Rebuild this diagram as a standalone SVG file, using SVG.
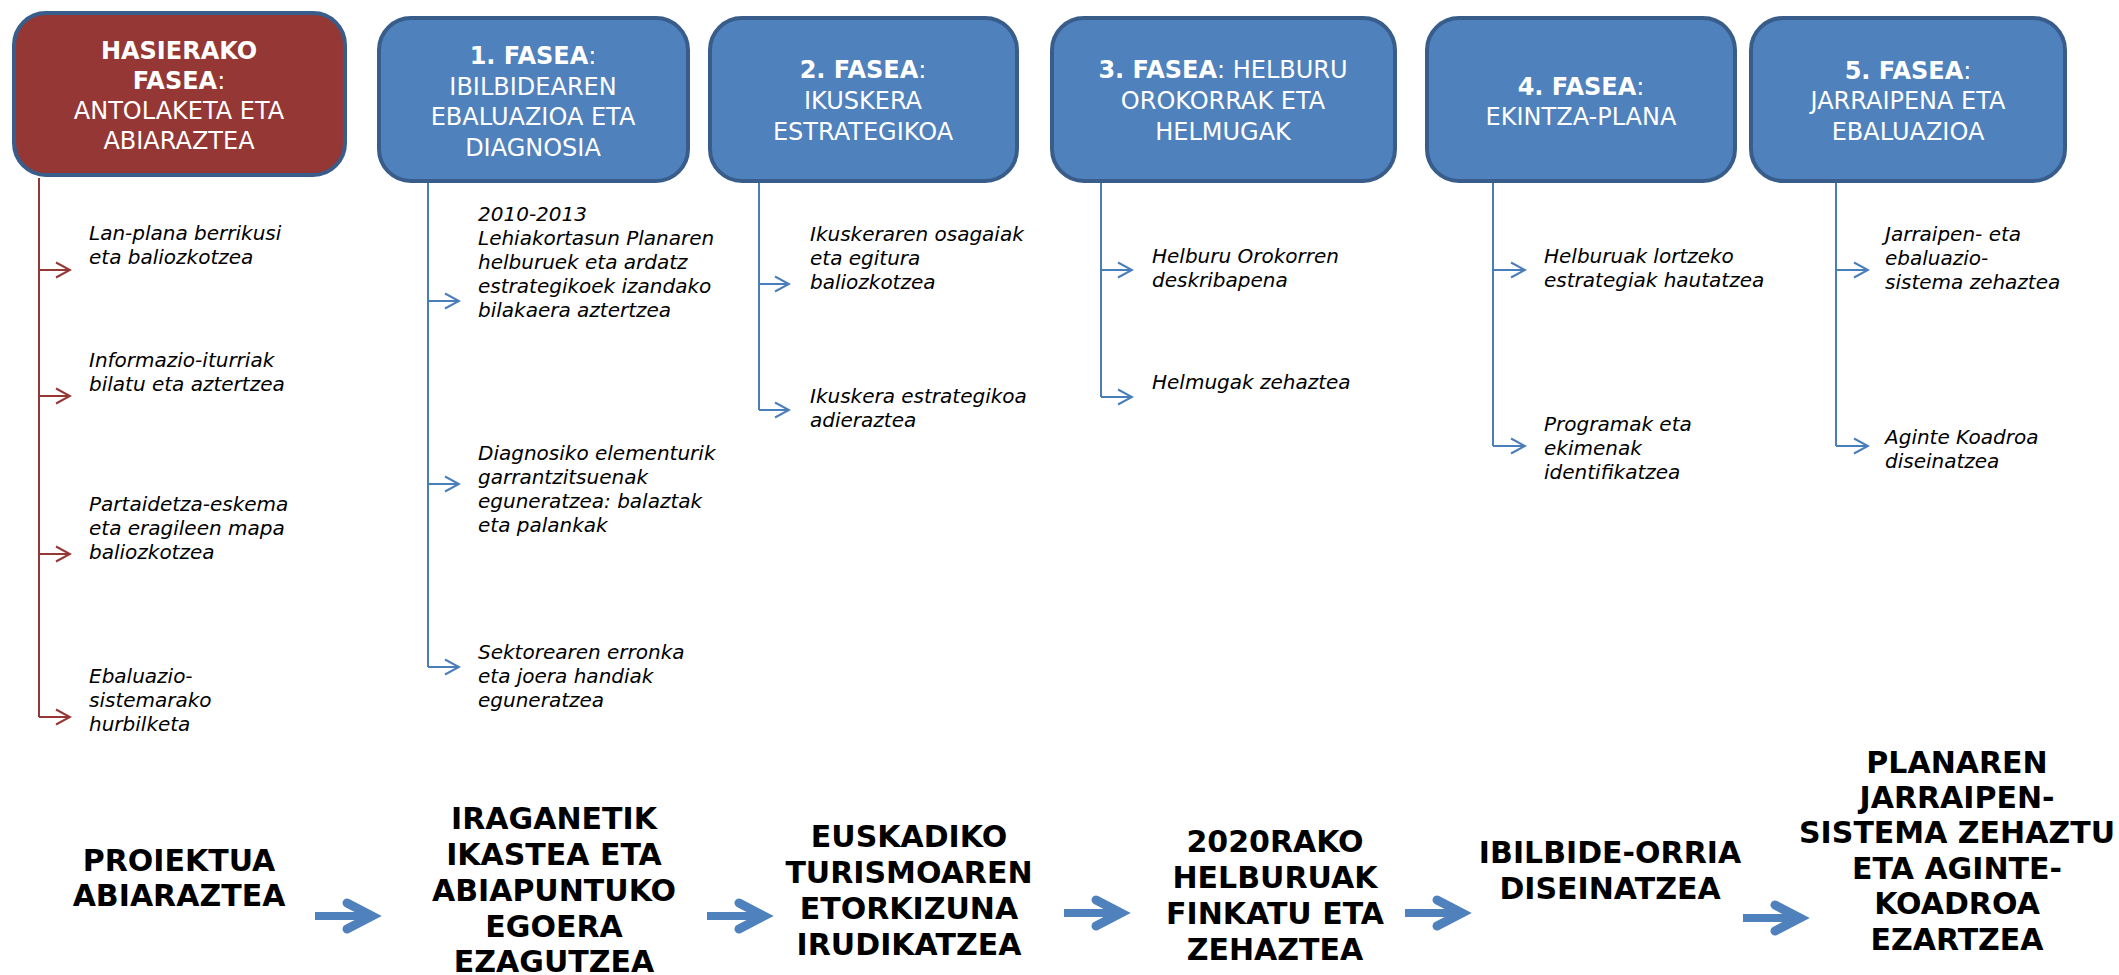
<svg xmlns="http://www.w3.org/2000/svg" width="2119" height="975" viewBox="0 0 2119 975">
  <style>
    .phase { stroke: #385D8A; stroke-width: 4; }
    .red { fill: #953735; }
    .blue { fill: #4F81BD; }
    .head { font-family: "DejaVu Sans", Verdana, sans-serif; font-size: 24px; fill: #ffffff; text-anchor: middle; }
    .head tspan.b { font-weight: bold; }
    .task { font-family: "DejaVu Sans", Verdana, sans-serif; font-size: 20px; font-style: italic; fill: #000000; }
    .step { font-family: "DejaVu Sans", Verdana, sans-serif; font-size: 30px; font-weight: bold; fill: #000000; text-anchor: middle; }
    .lred { stroke: #953735; stroke-width: 2; fill: none; }
    .lblue { stroke: #4A7EBB; stroke-width: 2; fill: none; }
    .fat { stroke: #4F81BD; fill: none; }
  </style>
  <defs>
    <marker id="headRed" markerUnits="userSpaceOnUse" markerWidth="18" markerHeight="20" refX="16" refY="10" orient="auto">
      <path d="M2,2.5 L16,10 L2,17.5" fill="none" stroke="#953735" stroke-width="2"/>
    </marker>
    <marker id="headBlue" markerUnits="userSpaceOnUse" markerWidth="18" markerHeight="20" refX="16" refY="10" orient="auto">
      <path d="M2,2.5 L16,10 L2,17.5" fill="none" stroke="#4A7EBB" stroke-width="2"/>
    </marker>
    <g id="fatArrow" class="fat">
      <path d="M0,0 H50" stroke-width="8"/>
      <path d="M32,-13 L57,0 L32,13" stroke-width="9" stroke-linecap="round" stroke-linejoin="miter"/>
    </g>
  </defs>

  <!-- phase boxes -->
  <g id="phase-0">
    <rect class="phase red" x="14" y="13" width="331" height="162" rx="32"/>
    <text class="head" x="179" y="59"><tspan class="b">HASIERAKO</tspan></text>
    <text class="head" x="179" y="89"><tspan class="b">FASEA</tspan>:</text>
    <text class="head" x="179" y="119">ANTOLAKETA ETA</text>
    <text class="head" x="179" y="149">ABIARAZTEA</text>
  </g>
  <g id="phase-1">
    <rect class="phase blue" x="379" y="18" width="309" height="163" rx="32"/>
    <text class="head" x="533" y="64"><tspan class="b">1. FASEA</tspan>:</text>
    <text class="head" x="533" y="94.5">IBILBIDEAREN</text>
    <text class="head" x="533" y="125">EBALUAZIOA ETA</text>
    <text class="head" x="533" y="155.5">DIAGNOSIA</text>
  </g>
  <g id="phase-2">
    <rect class="phase blue" x="710" y="18" width="307" height="163" rx="32"/>
    <text class="head" x="863" y="78"><tspan class="b">2. FASEA</tspan>:</text>
    <text class="head" x="863" y="109">IKUSKERA</text>
    <text class="head" x="863" y="140">ESTRATEGIKOA</text>
  </g>
  <g id="phase-3">
    <rect class="phase blue" x="1052" y="18" width="343" height="163" rx="32"/>
    <text class="head" x="1223" y="78"><tspan class="b">3. FASEA</tspan>: HELBURU</text>
    <text class="head" x="1223" y="109">OROKORRAK ETA</text>
    <text class="head" x="1223" y="140">HELMUGAK</text>
  </g>
  <g id="phase-4">
    <rect class="phase blue" x="1427" y="18" width="308" height="163" rx="32"/>
    <text class="head" x="1581" y="95"><tspan class="b">4. FASEA</tspan>:</text>
    <text class="head" x="1581" y="125">EKINTZA-PLANA</text>
  </g>
  <g id="phase-5">
    <rect class="phase blue" x="1751" y="18" width="314" height="163" rx="32"/>
    <text class="head" x="1908" y="79"><tspan class="b">5. FASEA</tspan>:</text>
    <text class="head" x="1908" y="109">JARRAIPENA ETA</text>
    <text class="head" x="1908" y="140">EBALUAZIOA</text>
  </g>

  <!-- branch connectors -->
  <g id="connectors">
    <path class="lred" d="M39,178 V717"/>
    <path class="lred" d="M39,270 H70" marker-end="url(#headRed)"/>
    <path class="lred" d="M39,396 H70" marker-end="url(#headRed)"/>
    <path class="lred" d="M39,554 H70" marker-end="url(#headRed)"/>
    <path class="lred" d="M39,717 H70" marker-end="url(#headRed)"/>

    <path class="lblue" d="M428,183 V667"/>
    <path class="lblue" d="M428,301 H459" marker-end="url(#headBlue)"/>
    <path class="lblue" d="M428,484 H459" marker-end="url(#headBlue)"/>
    <path class="lblue" d="M428,667 H459" marker-end="url(#headBlue)"/>

    <path class="lblue" d="M759,183 V410"/>
    <path class="lblue" d="M759,284 H789" marker-end="url(#headBlue)"/>
    <path class="lblue" d="M759,410 H789" marker-end="url(#headBlue)"/>

    <path class="lblue" d="M1101,183 V397"/>
    <path class="lblue" d="M1101,270 H1132" marker-end="url(#headBlue)"/>
    <path class="lblue" d="M1101,397 H1132" marker-end="url(#headBlue)"/>

    <path class="lblue" d="M1493,183 V446"/>
    <path class="lblue" d="M1493,270 H1525" marker-end="url(#headBlue)"/>
    <path class="lblue" d="M1493,446 H1525" marker-end="url(#headBlue)"/>

    <path class="lblue" d="M1836,183 V446"/>
    <path class="lblue" d="M1836,270 H1868" marker-end="url(#headBlue)"/>
    <path class="lblue" d="M1836,446 H1868" marker-end="url(#headBlue)"/>
  </g>

  <!-- task lists -->
  <g id="tasks-0">
    <text class="task" x="89" y="240">Lan-plana berrikusi</text>
    <text class="task" x="89" y="264">eta baliozkotzea</text>
    <text class="task" x="89" y="367">Informazio-iturriak</text>
    <text class="task" x="89" y="391">bilatu eta aztertzea</text>
    <text class="task" x="89" y="511">Partaidetza-eskema</text>
    <text class="task" x="89" y="535">eta eragileen mapa</text>
    <text class="task" x="89" y="559">baliozkotzea</text>
    <text class="task" x="89" y="683">Ebaluazio-</text>
    <text class="task" x="89" y="707">sistemarako</text>
    <text class="task" x="89" y="731">hurbilketa</text>
  </g>
  <g id="tasks-1">
    <text class="task" x="478" y="221">2010-2013</text>
    <text class="task" x="478" y="245">Lehiakortasun Planaren</text>
    <text class="task" x="478" y="269">helburuek eta ardatz</text>
    <text class="task" x="478" y="293">estrategikoek izandako</text>
    <text class="task" x="478" y="317">bilakaera aztertzea</text>
    <text class="task" x="478" y="460">Diagnosiko elementurik</text>
    <text class="task" x="478" y="484">garrantzitsuenak</text>
    <text class="task" x="478" y="508">eguneratzea: balaztak</text>
    <text class="task" x="478" y="532">eta palankak</text>
    <text class="task" x="478" y="659">Sektorearen erronka</text>
    <text class="task" x="478" y="683">eta joera handiak</text>
    <text class="task" x="478" y="707">eguneratzea</text>
  </g>
  <g id="tasks-2">
    <text class="task" x="810" y="241">Ikuskeraren osagaiak</text>
    <text class="task" x="810" y="265">eta egitura</text>
    <text class="task" x="810" y="289">baliozkotzea</text>
    <text class="task" x="810" y="403">Ikuskera estrategikoa</text>
    <text class="task" x="810" y="427">adieraztea</text>
  </g>
  <g id="tasks-3">
    <text class="task" x="1152" y="263">Helburu Orokorren</text>
    <text class="task" x="1152" y="287">deskribapena</text>
    <text class="task" x="1152" y="389">Helmugak zehaztea</text>
  </g>
  <g id="tasks-4">
    <text class="task" x="1544" y="263">Helburuak lortzeko</text>
    <text class="task" x="1544" y="287">estrategiak hautatzea</text>
    <text class="task" x="1544" y="431">Programak eta</text>
    <text class="task" x="1544" y="455">ekimenak</text>
    <text class="task" x="1544" y="479">identifikatzea</text>
  </g>
  <g id="tasks-5">
    <text class="task" x="1885" y="241">Jarraipen- eta</text>
    <text class="task" x="1885" y="265">ebaluazio-</text>
    <text class="task" x="1885" y="289">sistema zehaztea</text>
    <text class="task" x="1885" y="444">Aginte Koadroa</text>
    <text class="task" x="1885" y="468">diseinatzea</text>
  </g>

  <!-- process steps along the bottom -->
  <g id="step-1">
    <text class="step" x="179" y="871">PROIEKTUA</text>
    <text class="step" x="179" y="906">ABIARAZTEA</text>
  </g>
  <g id="step-2">
    <text class="step" x="554" y="829">IRAGANETIK</text>
    <text class="step" x="554" y="865">IKASTEA ETA</text>
    <text class="step" x="554" y="901">ABIAPUNTUKO</text>
    <text class="step" x="554" y="937">EGOERA</text>
    <text class="step" x="554" y="972">EZAGUTZEA</text>
  </g>
  <g id="step-3">
    <text class="step" x="909" y="847">EUSKADIKO</text>
    <text class="step" x="909" y="883">TURISMOAREN</text>
    <text class="step" x="909" y="919">ETORKIZUNA</text>
    <text class="step" x="909" y="955">IRUDIKATZEA</text>
  </g>
  <g id="step-4">
    <text class="step" x="1275" y="852">2020RAKO</text>
    <text class="step" x="1275" y="888">HELBURUAK</text>
    <text class="step" x="1275" y="924">FINKATU ETA</text>
    <text class="step" x="1275" y="960">ZEHAZTEA</text>
  </g>
  <g id="step-5">
    <text class="step" x="1610" y="863">IBILBIDE-ORRIA</text>
    <text class="step" x="1610" y="899">DISEINATZEA</text>
  </g>
  <g id="step-6">
    <text class="step" x="1957" y="773">PLANAREN</text>
    <text class="step" x="1957" y="808">JARRAIPEN-</text>
    <text class="step" x="1957" y="843">SISTEMA ZEHAZTU</text>
    <text class="step" x="1957" y="879">ETA AGINTE-</text>
    <text class="step" x="1957" y="914">KOADROA</text>
    <text class="step" x="1957" y="950">EZARTZEA</text>
  </g>

  <!-- flow arrows between steps -->
  <g id="step-arrows">
    <use href="#fatArrow" transform="translate(315,916)"/>
    <use href="#fatArrow" transform="translate(707,916)"/>
    <use href="#fatArrow" transform="translate(1064,913)"/>
    <use href="#fatArrow" transform="translate(1405,913)"/>
    <use href="#fatArrow" transform="translate(1743,918)"/>
  </g>
</svg>
